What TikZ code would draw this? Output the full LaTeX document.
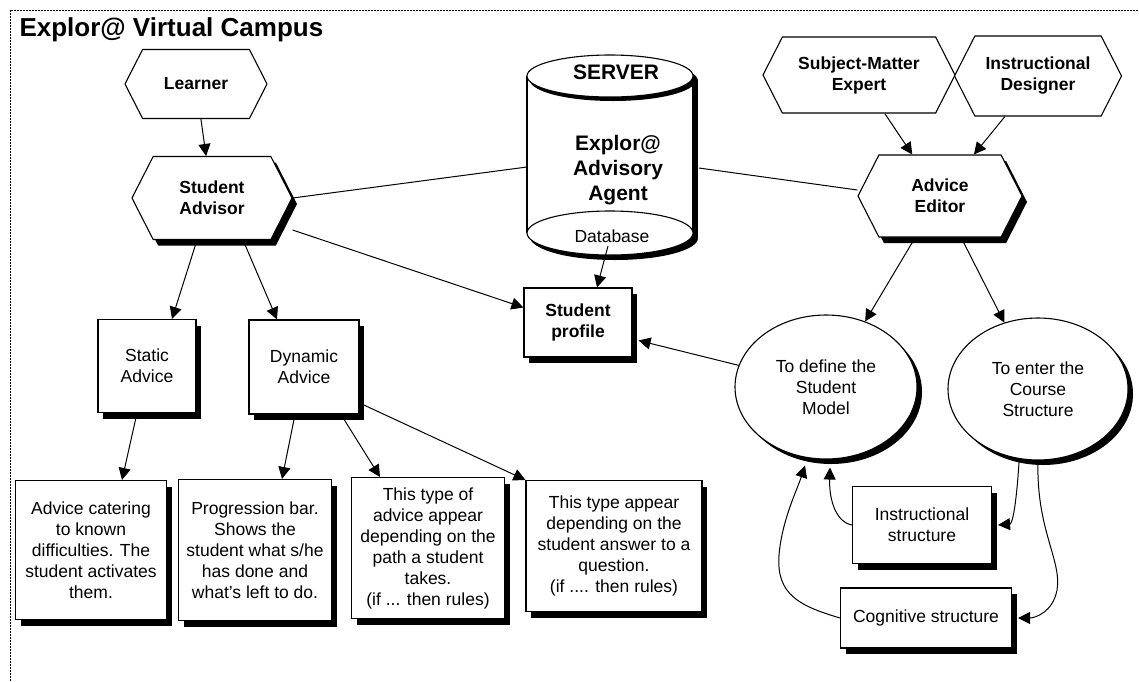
\documentclass[tikz,border=0pt]{standalone}
\usepackage{fontspec}
\setmainfont{Liberation Sans}
\usetikzlibrary{arrows.meta,positioning,shapes.geometric,shapes.symbols,shadows}

\begin{document}
\begin{tikzpicture}[
    x=1pt, y=-1pt,
    >={Triangle[length=12pt,width=12pt]},
    frame/.style={dash pattern=on 2pt off 1pt, line width=0.7pt},
    shad/.style={drop shadow={opacity=1, fill=black, shadow xshift=5pt, shadow yshift=-6pt}},
    hexa/.style={signal, signal to=west and east, signal pointer angle=126, draw, line width=1.1pt, fill=white, inner sep=0pt, font=\fontsize{17.5}{21}\selectfont\bfseries, align=center},
    box/.style={rectangle, draw, line width=1.1pt, fill=white, shad, inner sep=0pt, font=\fontsize{17.5}{21}\selectfont, align=center},
    oval/.style={ellipse, draw, line width=1.1pt, fill=white, drop shadow={opacity=1, fill=black, shadow xshift=5pt, shadow yshift=-5pt}, inner sep=0pt, font=\fontsize{17.5}{21}\selectfont, align=center},
    bigtxt/.style={font=\fontsize{21}{25}\selectfont\bfseries, align=center},
    link/.style={line width=1pt},
    arr/.style={->, line width=1pt}
]
\useasboundingbox (0,0) rectangle (1139,681);

% frame and title
\draw[frame] (10,681) -- (10,10) -- (1139,10);
\node[anchor=base west, font=\fontsize{26}{30}\selectfont\bfseries] (title) at (16,36) {Explor@ Virtual Campus};

% Server cylinder
\fill[black] (532,81) rectangle (698,238);
\fill[black] (615,81) ellipse [x radius=83, y radius=21];
\fill[black] (615,238) ellipse [x radius=83, y radius=22];
\fill[white] (527,76) rectangle (693,233);
\draw[line width=1.1pt] (527,76) -- (527,233) (693,76) -- (693,233);
\fill[black] (613,80) ellipse [x radius=83, y radius=21];
\draw[line width=1.1pt, fill=white] (610,76) ellipse [x radius=83, y radius=21];
\fill[black] (613,237) ellipse [x radius=83, y radius=22];
\draw[line width=1.1pt, fill=white] (610,233) ellipse [x radius=83, y radius=22];
\node[bigtxt] (server) at (616,72) {SERVER};
\node[bigtxt] (agent) at (618,170) {Explor@\\Advisory\\Agent};
\node[font=\fontsize{17.5}{21}\selectfont] (db) at (612,236) {Database};
\coordinate (srvL) at (527,167);
\coordinate (srvR) at (699,168);

% Learner side
\node[hexa, minimum width=142pt, minimum height=69pt] (learner) at (196,84) {Learner};
\node[hexa, shad, minimum width=160pt, minimum height=83pt] (sadv) at (212,198) {Student\\Advisor};
\node[box, minimum width=98pt, minimum height=93pt] (static) at (147,366) {Static\\Advice};
\node[box, minimum width=110pt, minimum height=94pt] (dynamic) at (304,367) {Dynamic\\Advice};
\node[box, font=\fontsize{17.5}{21}\selectfont\bfseries, minimum width=108pt, minimum height=69pt] (profile) at (578,322.5) {Student\\profile};
\node[box, minimum width=151pt, minimum height=139pt] (adv1) at (91,550) {Advice catering\\to known\\difficulties. The\\student activates\\them.};
\node[box, minimum width=153pt, minimum height=141pt] (adv2) at (255,550) {Progression bar.\\Shows the\\student what s/he\\has done and\\what's left to do.};
\node[box, minimum width=153pt, minimum height=141pt] (adv3) at (428,548) {This type of\\advice appear\\depending on the\\path a student\\takes.\\(if ... then rules)};
\node[box, minimum width=176pt, minimum height=131pt] (adv4) at (614,546) {This type appear\\depending on the\\student answer to a\\question.\\(if .... then rules)};

% Editor side
\node[hexa, minimum width=192pt, minimum height=76pt] (sme) at (859,75) {Subject-Matter\\Expert};
\node[hexa, minimum width=167pt, minimum height=80pt] (designer) at (1038,76) {Instructional\\Designer};
\node[hexa, shad, minimum width=164pt, minimum height=82pt] (adved) at (940,196) {Advice\\Editor};
\node[oval, minimum width=182pt, minimum height=144pt] (smodel) at (826,387) {To define the\\Student\\Model};
\node[oval, minimum width=180pt, minimum height=142pt] (cstruct) at (1038,389) {To enter the\\Course\\Structure};
\node[box, minimum width=139pt, minimum height=77pt] (instr) at (922,525) {Instructional\\structure};
\node[box, minimum width=171pt, minimum height=60pt] (cog) at (926,618) {Cognitive structure};

% connectors
\draw[arr] (learner) -- (sadv);
\draw[link] (sadv.east) -- (srvL);
\draw[arr] ([yshift=-32pt]sadv.east) -- ([yshift=15pt]profile.west);
\draw[arr] ([xshift=-15pt]sadv.south) -- ([xshift=25pt]static.north);
\draw[arr] ([xshift=31pt]sadv.south) -- ([xshift=-27pt]dynamic.north);
\draw[arr] ([xshift=-10pt]static.south) -- ([xshift=31pt]adv1.north);
\draw[arr] ([xshift=-9pt]dynamic.south) -- ([xshift=27pt]adv2.north);
\draw[arr] ([xshift=37pt]dynamic.south) -- ([xshift=-48pt]adv3.north);
\draw[arr] ([yshift=-36pt]dynamic.east) -- (adv4.north west);
\draw[arr] ([xshift=-4pt]db.south) -- ([xshift=19pt]profile.north);
\draw[link] (srvR) -- ([yshift=6pt]adved.west);
\draw[arr] (sme) -- (adved);
\draw[arr] (designer) -- (adved);
\draw[arr] (adved) -- (smodel);
\draw[arr] (adved) -- (cstruct);
\draw[arr] (smodel) -- ([xshift=6pt,yshift=-18pt]profile.east);
\draw[arr] (cstruct.255) .. controls (1016,510) and (1012,524) .. ([xshift=6pt]instr.east);
\draw[arr] (cstruct.270) .. controls (1036,530) and (1062,560) .. (1057,590) .. controls (1053,612) and (1035,618) .. ([xshift=6pt]cog.east);
\draw[arr] (instr.west) .. controls (836,522) and (829,500) .. ([xshift=4pt,yshift=-8pt]smodel.south);
\draw[arr] (cog.west) .. controls (800,606) and (776,595) .. (779,555) .. controls (782,520) and (797,490) .. ([xshift=-21pt,yshift=-6pt]smodel.south);
\end{tikzpicture}
\end{document}
